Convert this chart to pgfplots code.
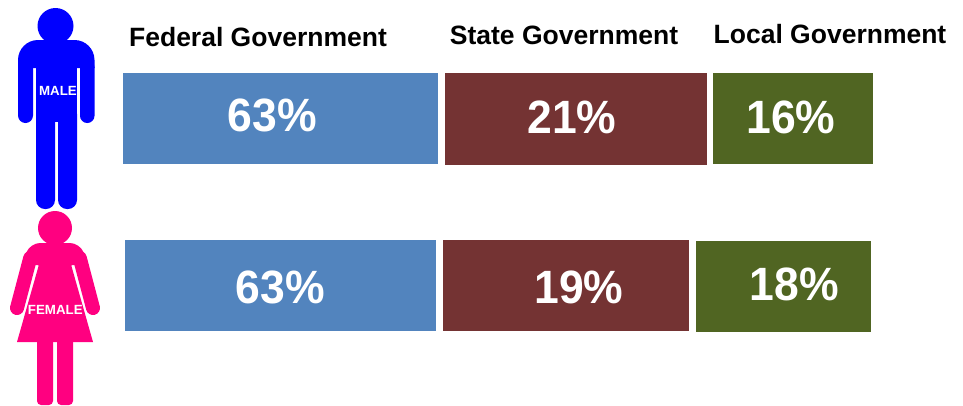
\documentclass[border=0pt]{standalone}
\usepackage{fontspec}
\setmainfont{Liberation Sans}
\usepackage{pgfplots}
\pgfplotsset{compat=1.18}
\definecolor{fedblue}{HTML}{5284BE}
\definecolor{statered}{HTML}{743333}
\definecolor{localgreen}{HTML}{506522}
\definecolor{malefig}{HTML}{0000FF}
\definecolor{femalefig}{HTML}{FF0080}
\newcommand{\pcttext}[1]{\scalebox{1}[1.05]{#1}}
\tikzset{
	lbl/.style={anchor=base,font=\fontsize{26.5}{26.5}\selectfont\bfseries,text=black,inner sep=0pt},
	pct/.style={anchor=base,font=\fontsize{44.5}{44.5}\selectfont\bfseries,text=white,inner sep=0pt},
	who/.style={anchor=base,font=\fontsize{13.3}{13.3}\selectfont\bfseries,text=white,inner sep=0pt},
}
\begin{document}
\begin{tikzpicture}
\begin{axis}[
	at={(0,0)},
	anchor=south west,
	scale only axis,
	width=963pt,
	height=405pt,
	xmin=0, xmax=963,
	ymin=0, ymax=405,
	y dir=reverse,
	axis lines=none,
	clip=false,
]
% male row
\addplot[fill=fedblue,draw=none] coordinates {(123,73) (438,73) (438,164) (123,164)} --cycle;
\addplot[fill=statered,draw=none] coordinates {(445,73) (707,73) (707,165) (445,165)} --cycle;
\addplot[fill=localgreen,draw=none] coordinates {(713,73) (873,73) (873,164) (713,164)} --cycle;
% female row
\addplot[fill=fedblue,draw=none] coordinates {(125,240) (436,240) (436,331) (125,331)} --cycle;
\addplot[fill=statered,draw=none] coordinates {(443,240) (689,240) (689,331) (443,331)} --cycle;
\addplot[fill=localgreen,draw=none] coordinates {(696,241) (871,241) (871,332) (696,332)} --cycle;

\node[lbl] at (258,46.5) {Federal Government};
\node[lbl] at (564,44.5) {State Government};
\node[lbl] at (830,43) {Local Government};

\node[pct] at (272.5,131.5) {\pcttext{63\%}};
\node[pct] at (572,133.5) {\pcttext{21\%}};
\node[pct] at (791,133) {\pcttext{16\%}};
\node[pct] at (280.5,303) {\pcttext{63\%}};
\node[pct] at (579,303) {\pcttext{19\%}};
\node[pct] at (794.5,300.7) {\pcttext{18\%}};

% male figure
\fill[malefig] (55.5,26) circle[radius=18];
\fill[malefig] (18,68) [rounded corners=20] -- (18,40) -- (94.5,40) [sharp corners] -- (94.5,68) -- cycle;
\fill[malefig,rounded corners=7.5] (18,60) rectangle (33,123);
\fill[malefig,rounded corners=7.2] (80,60) rectangle (94.5,123);
\fill[malefig] (36,60) rectangle (77,122);
\fill[malefig,rounded corners=9] (36,105) rectangle (55,209);
\fill[malefig,rounded corners=9] (58,105) rectangle (77,209);
\node[who] at (58,95) {MALE};

% female figure
\fill[femalefig] (55,228) circle[radius=17];
\fill[femalefig] (21.6,265) [rounded corners=10] -- (30,243) -- (80,243) [sharp corners] -- (88.4,265) -- cycle;
\draw[femalefig,line width=14,line cap=round] (17,308) -- (30.2,258);
\draw[femalefig,line width=14,line cap=round] (93,308) -- (79.8,258);
\fill[femalefig] (38.3,255) -- (71.7,255) -- (71.7,267) -- (93,342) -- (17,342) -- (38.3,267) -- cycle;
\fill[femalefig,rounded corners=4] (37,335) rectangle (53,405);
\fill[femalefig,rounded corners=4] (57,335) rectangle (73,405);
\node[who] at (55.3,314) {FEMALE};
\end{axis}
\path[use as bounding box] (0,0) rectangle (963pt,405pt);
\end{tikzpicture}
\end{document}
